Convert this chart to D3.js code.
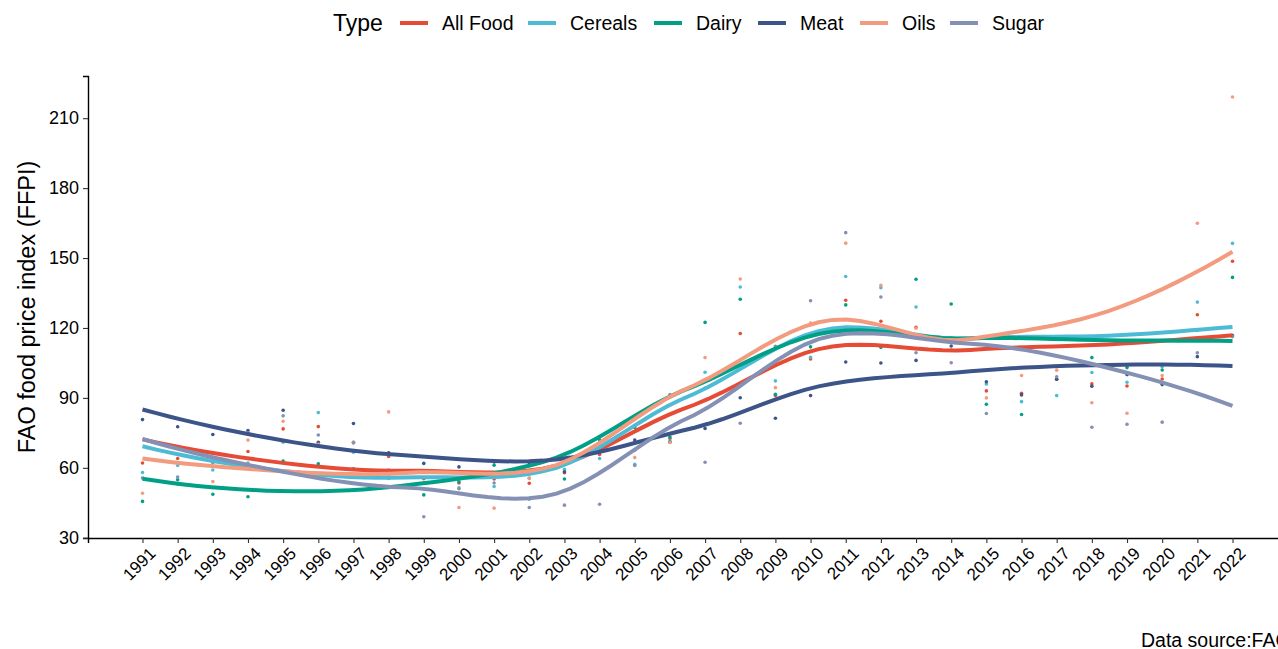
<!DOCTYPE html>
<html>
<head>
<meta charset="utf-8">
<script src="https://cdn.jsdelivr.net/npm/d3@7/dist/d3.min.js"></script>
<style>
  html, body { margin: 0; padding: 0; background: #fff; overflow: hidden; }
  svg { display: block; font-family: "Liberation Sans", Arial, sans-serif; }
</style>
</head>
<body>
<svg id="chart" width="1278" height="649"></svg>
<script>
// FAO Food Price Index by commodity group (2014-2016 = 100)
const years = d3.range(1991, 2023);
const allFood = [62.1, 64.0, 62.4, 67.0, 76.7, 77.7, 71.0, 64.9, 55.3, 53.5, 55.2, 53.4, 57.9, 65.7, 67.6, 72.6,
                 94.1, 117.6, 91.0, 106.7, 131.9, 122.9, 120.3, 115.1, 93.0, 92.0, 98.0, 96.0, 95.1, 98.1, 125.7, 148.6];
const cereals = [58.0, 61.0, 59.1, 62.1, 71.0, 83.7, 66.7, 59.0, 53.4, 51.4, 52.0, 55.5, 59.4, 64.0, 61.5, 71.5,
                 101.0, 137.6, 97.3, 107.4, 142.1, 137.3, 129.0, 115.8, 96.0, 88.4, 91.0, 100.9, 96.7, 103.4, 131.1, 156.3];
const dairy = [45.6, 54.9, 48.7, 47.6, 62.9, 61.7, 59.6, 56.0, 48.4, 54.0, 61.1, 46.6, 55.2, 72.0, 77.3, 73.2,
               122.4, 132.3, 91.6, 111.9, 129.9, 111.7, 140.9, 130.3, 87.3, 82.9, 108.0, 107.3, 103.0, 102.0, 119.1, 141.7];
const meat = [80.7, 77.6, 74.3, 76.0, 84.7, 71.0, 79.0, 66.5, 61.9, 60.4, 62.5, 61.5, 58.3, 67.7, 71.9, 71.0,
              76.9, 90.1, 81.3, 91.0, 105.4, 105.0, 106.1, 112.3, 96.9, 91.3, 98.0, 95.0, 100.0, 95.7, 107.7, 116.7];
const oils = [49.1, 53.0, 54.1, 71.9, 80.0, 70.1, 71.0, 84.0, 58.4, 43.0, 42.7, 55.6, 63.0, 69.9, 64.4, 70.9,
              107.3, 141.0, 94.4, 122.1, 156.4, 138.3, 119.9, 110.6, 90.0, 99.6, 101.9, 87.9, 83.4, 99.6, 164.9, 219.1];
const sugar = [55.6, 56.1, 62.3, 75.0, 82.3, 74.1, 70.7, 55.5, 39.0, 51.0, 53.5, 43.0, 44.0, 44.4, 61.0, 91.4,
               62.4, 79.1, 112.1, 131.7, 160.9, 133.3, 109.4, 105.1, 83.3, 111.6, 99.1, 77.4, 78.7, 79.6, 109.4, 116.3];

const typeNames = ["All Food", "Cereals", "Dairy", "Meat", "Oils", "Sugar"];
const typeValues = [allFood, cereals, dairy, meat, oils, sugar];
const typeColors = ["#E64B35", "#4DBBD5", "#00A087", "#3C5488", "#F39B7F", "#8491B4"];
const yTicks = [30, 60, 90, 120, 150, 180, 210];

const series = typeNames.map((name, i) => ({
  name, color: typeColors[i],
  points: years.map((yr, j) => ({ x: yr, y: typeValues[i][j] }))
}));

// Weighted local quadratic fit at x0: returns [value, slope]
function localFit(pts, span, x0) {
  const q = Math.floor(pts.length * span);
  const d = pts.map(p => Math.abs(p.x - x0));
  const h = d.slice().sort((a, b) => a - b)[q - 1];
  const S = [[0,0,0],[0,0,0],[0,0,0]], B = [0,0,0];
  pts.forEach((p, k) => {
    const u = d[k] / h;
    if (u >= 1) return;
    const w = Math.pow(1 - u * u * u, 3);
    const t = p.x - x0;
    const v = [1, t, t * t];
    for (let a = 0; a < 3; a++) {
      B[a] += w * v[a] * p.y;
      for (let b = 0; b < 3; b++) S[a][b] += w * v[a] * v[b];
    }
  });
  const M = S.map((r, a) => r.concat([B[a]]));
  for (let c = 0; c < 3; c++) {
    let piv = c;
    for (let r = c + 1; r < 3; r++) if (Math.abs(M[r][c]) > Math.abs(M[piv][c])) piv = r;
    [M[c], M[piv]] = [M[piv], M[c]];
    for (let r = 0; r < 3; r++) {
      if (r === c) continue;
      const f = M[r][c] / M[c][c];
      for (let k = c; k < 4; k++) M[r][k] -= f * M[c][k];
    }
  }
  return [M[0][3] / M[0][0], M[1][3] / M[1][1]];
}

// kd-tree vertices (cells of at most fc points), fitted exactly, cubic Hermite in between
function loessSmooth(pts, span, xs) {
  const xsorted = pts.map(p => p.x).sort((a, b) => a - b);
  const n = xsorted.length;
  const fc = Math.floor(n * span * 0.2);
  const lo = xsorted[0], hi = xsorted[n - 1];
  const mu = 0.005 * (hi - lo);
  const verts = [lo - mu, hi + mu];
  (function split(l, u) {
    if (u - l + 1 <= fc) return;
    const m = Math.floor((l + u) / 2);
    verts.push((xsorted[m] + xsorted[m + 1]) / 2);
    split(l, m); split(m + 1, u);
  })(0, n - 1);
  verts.sort((a, b) => a - b);
  const fits = verts.map(v => localFit(pts, span, v));
  return xs.map(x0 => {
    let i = 0;
    while (i < verts.length - 2 && x0 > verts[i + 1]) i++;
    const h = verts[i + 1] - verts[i];
    const t = (x0 - verts[i]) / h;
    const t2 = t * t, t3 = t2 * t;
    const y = (2*t3 - 3*t2 + 1) * fits[i][0] + (t3 - 2*t2 + t) * h * fits[i][1]
            + (-2*t3 + 3*t2) * fits[i + 1][0] + (t3 - t2) * h * fits[i + 1][1];
    return { x: x0, y };
  });
}

const svg = d3.select("#chart");
const margin = { left: 88, right: 1287, top: 76, bottom: 538 };

const x = d3.scaleLinear().domain([1991 - 1.55, 2022 + 1.55]).range([margin.left, margin.right]);
const y = d3.scaleLinear().domain([29.9, 228.1]).range([margin.bottom, margin.top]);

// points
const pointLayer = svg.append("g");
series.forEach(s => {
  pointLayer.selectAll(null).data(s.points).enter().append("circle")
    .attr("cx", d => x(d.x)).attr("cy", d => y(d.y)).attr("r", 1.8)
    .attr("fill", s.color);
});

// smoothed trend lines
const xs = d3.range(80).map(i => 1991 + i * (2022 - 1991) / 79);
const line = d3.line().x(d => x(d.x)).y(d => y(d.y));
series.forEach(s => {
  svg.append("path").datum(loessSmooth(s.points, 0.75, xs))
    .attr("d", line).attr("fill", "none")
    .attr("stroke", s.color).attr("stroke-width", 4);
});

// axes
const xAxis = svg.append("g").attr("transform", `translate(0,${margin.bottom})`)
  .call(d3.axisBottom(x).tickValues(years).tickFormat(d3.format("d")).tickSize(5).tickPadding(3));
xAxis.select(".domain").attr("stroke", "#000").attr("stroke-width", 1.4);
xAxis.selectAll(".tick line").attr("stroke", "#333").attr("stroke-width", 1.1);
xAxis.selectAll(".tick text")
  .attr("font-size", 17).attr("fill", "#000")
  .attr("text-anchor", "end")
  .attr("dy", null)
  .attr("transform", "translate(8,11) rotate(-45)");

const yAxis = svg.append("g").attr("transform", `translate(${margin.left},0)`)
  .call(d3.axisLeft(y).tickValues(yTicks).tickSize(5).tickPadding(4));
yAxis.select(".domain").attr("stroke", "#000").attr("stroke-width", 1.4);
yAxis.selectAll(".tick line").attr("stroke", "#333").attr("stroke-width", 1.1);
yAxis.selectAll(".tick text").attr("font-size", 18).attr("fill", "#000");

svg.append("text")
  .attr("transform", `translate(35,${(margin.top + margin.bottom) / 2}) rotate(-90)`)
  .attr("text-anchor", "middle").attr("font-size", 23.5).attr("fill", "#000")
  .text("FAO food price index (FFPI)");

// legend
const legend = svg.append("g");
legend.append("text").attr("x", 333).attr("y", 31).attr("font-size", 23).attr("fill", "#000").text("Type");
const keyX = [400, 528, 654, 758, 860, 950];
series.forEach((s, i) => {
  legend.append("line").attr("x1", keyX[i]).attr("x2", keyX[i] + 28)
    .attr("y1", 23).attr("y2", 23).attr("stroke", s.color).attr("stroke-width", 4);
  legend.append("text").attr("x", keyX[i] + 42).attr("y", 30)
    .attr("font-size", 19.5).attr("fill", "#000").text(s.name);
});

svg.append("text").attr("x", 1141).attr("y", 647).attr("font-size", 19.5).attr("fill", "#000")
  .text("Data source:FAO");
</script>
</body>
</html>
